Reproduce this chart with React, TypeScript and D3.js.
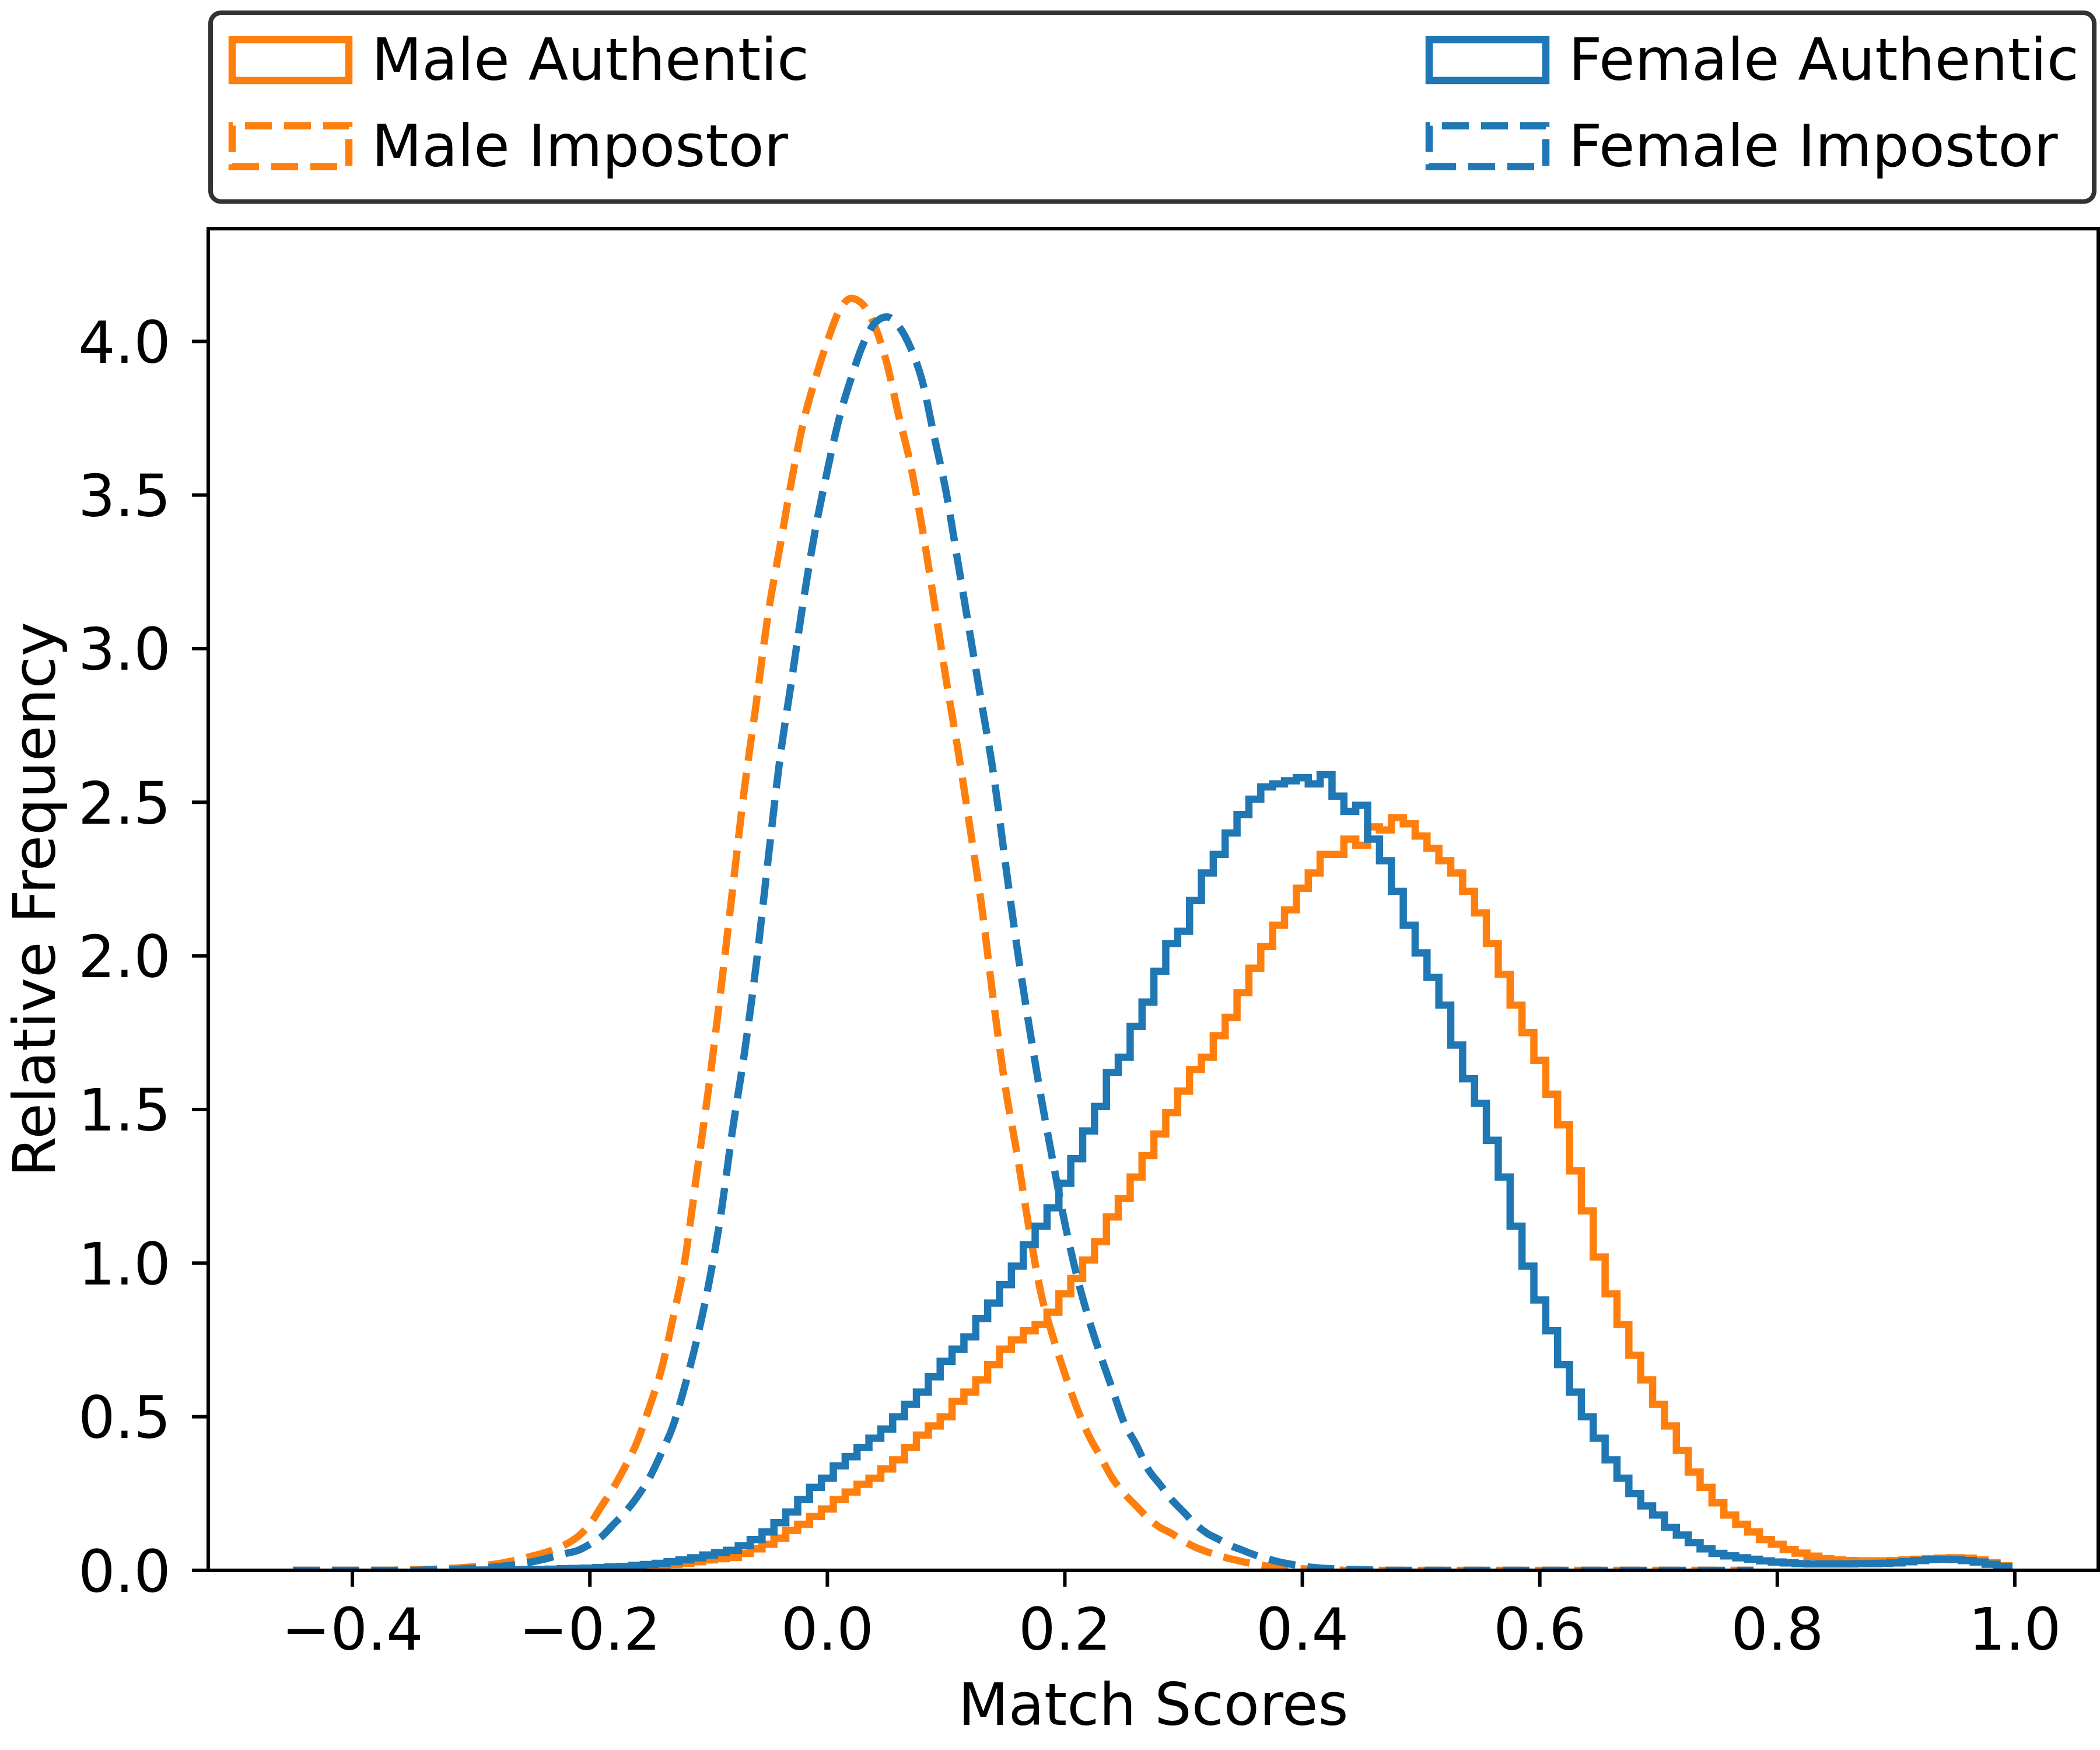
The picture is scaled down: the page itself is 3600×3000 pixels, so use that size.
import React from "react";
import * as d3 from "d3";

// histogram bins (bin centres start here, 0.01 wide)
const impostorStart = -0.45;
const authenticStart = -0.3;
const binWidth = 0.01;

const maleImpostor = [
  0, 0, 0, 0, 0, 0, 0, 0, 0,
  0.001, 0.002, 0.003, 0.004, 0.006, 0.008, 0.011, 0.015, 0.02, 0.027,
  0.035, 0.045, 0.055, 0.068, 0.085, 0.11, 0.15, 0.21, 0.27, 0.34,
  0.42, 0.53, 0.65, 0.82, 1.01, 1.29, 1.57, 1.88, 2.21, 2.54,
  2.82, 3.11, 3.33, 3.55, 3.74, 3.88, 4.0, 4.1, 4.14, 4.12,
  4.05, 3.93, 3.76, 3.6, 3.39, 3.15, 2.9, 2.67, 2.42, 2.16,
  1.85, 1.57, 1.35, 1.11, 0.9, 0.76, 0.64, 0.53, 0.44, 0.37,
  0.3, 0.25, 0.21, 0.17, 0.14, 0.12, 0.095, 0.075, 0.06, 0.048,
  0.037, 0.028, 0.02, 0.014, 0.01, 0.007, 0.005, 0.003, 0.002, 0.001,
  0, 0, 0, 0, 0, 0, 0, 0, 0, 0,
  0, 0, 0, 0, 0, 0, 0, 0, 0, 0,
  0, 0, 0, 0, 0, 0, 0, 0, 0, 0,
  0, 0, 0, 0, 0,
];

const femaleImpostor = [
  0, 0, 0, 0, 0, 0, 0, 0, 0, 0, 0,
  0.001, 0.002, 0.003, 0.004, 0.006, 0.008, 0.011, 0.015, 0.02, 0.027,
  0.035, 0.045, 0.055, 0.065, 0.085, 0.11, 0.15, 0.19, 0.24, 0.3,
  0.38, 0.47, 0.6, 0.75, 0.93, 1.15, 1.43, 1.68, 1.97, 2.31,
  2.64, 2.9, 3.16, 3.39, 3.58, 3.75, 3.88, 3.99, 4.06, 4.08,
  4.05, 3.98, 3.87, 3.69, 3.51, 3.28, 3.05, 2.82, 2.59, 2.3,
  2.02, 1.77, 1.54, 1.33, 1.13, 0.96, 0.82, 0.7, 0.59, 0.48,
  0.41, 0.33, 0.28, 0.23, 0.19, 0.15, 0.12, 0.1, 0.08, 0.065,
  0.05, 0.038, 0.028, 0.02, 0.014, 0.009, 0.006, 0.004, 0.003, 0.002,
  0.001, 0, 0, 0, 0, 0, 0, 0, 0, 0,
  0, 0, 0, 0, 0, 0, 0, 0, 0, 0,
  0, 0, 0, 0, 0, 0, 0, 0, 0, 0,
  0, 0, 0,
];

const maleAuthentic = [
  0, 0, 0.001, 0.001, 0.001, 0.002, 0.002, 0.003, 0.003, 0.004,
  0.005, 0.006, 0.007, 0.009, 0.011, 0.013, 0.016, 0.019, 0.023, 0.028,
  0.034, 0.038, 0.042, 0.055, 0.07, 0.085, 0.105, 0.13, 0.15, 0.175,
  0.2, 0.23, 0.255, 0.28, 0.3, 0.33, 0.36, 0.4, 0.44, 0.47,
  0.5, 0.55, 0.58, 0.62, 0.67, 0.72, 0.75, 0.78, 0.8, 0.84,
  0.9, 0.95, 1.01, 1.07, 1.15, 1.21, 1.28, 1.35, 1.42, 1.49,
  1.56, 1.63, 1.67, 1.74, 1.8, 1.88, 1.96, 2.03, 2.1, 2.15,
  2.22, 2.27, 2.33, 2.33, 2.38, 2.36, 2.42, 2.41, 2.45, 2.43,
  2.39, 2.35, 2.31, 2.27, 2.21, 2.14, 2.04, 1.94, 1.84, 1.75,
  1.66, 1.55, 1.45, 1.3, 1.17, 1.02, 0.9, 0.8, 0.7, 0.62,
  0.54, 0.47, 0.39, 0.32, 0.27, 0.22, 0.18, 0.15, 0.125, 0.1,
  0.085, 0.068, 0.056, 0.046, 0.038, 0.034, 0.032, 0.031, 0.031, 0.031,
  0.032, 0.034, 0.036, 0.038, 0.04, 0.041, 0.04, 0.034, 0.025, 0.015,
];

const femaleAuthentic = [
  0, 0.001, 0.001, 0.002, 0.002, 0.003, 0.003, 0.004, 0.005, 0.006,
  0.007, 0.009, 0.011, 0.013, 0.016, 0.019, 0.023, 0.028, 0.034, 0.041,
  0.05, 0.058, 0.065, 0.08, 0.1, 0.125, 0.155, 0.19, 0.23, 0.27,
  0.3, 0.34, 0.37, 0.4, 0.43, 0.46, 0.5, 0.54, 0.58, 0.63,
  0.68, 0.72, 0.76, 0.82, 0.87, 0.93, 0.99, 1.06, 1.12, 1.18,
  1.26, 1.34, 1.43, 1.51, 1.62, 1.67, 1.77, 1.85, 1.95, 2.04,
  2.08, 2.18, 2.27, 2.33, 2.4, 2.46, 2.51, 2.55, 2.56, 2.57,
  2.58, 2.56, 2.59, 2.52, 2.47, 2.49, 2.38, 2.31, 2.21, 2.1,
  2.01, 1.93, 1.84, 1.71, 1.6, 1.52, 1.4, 1.28, 1.12, 0.99,
  0.88, 0.78, 0.67, 0.58, 0.5, 0.43, 0.36, 0.3, 0.25, 0.21,
  0.18, 0.14, 0.115, 0.09, 0.07, 0.055, 0.047, 0.041, 0.036, 0.031,
  0.027, 0.024, 0.022, 0.021, 0.021, 0.021, 0.021, 0.022, 0.022, 0.023,
  0.024, 0.028, 0.032, 0.035, 0.036, 0.035, 0.032, 0.027, 0.02, 0.013,
];

const xTicks = [-0.4, -0.2, 0, 0.2, 0.4, 0.6, 0.8, 1.0];
const yTicks = [0, 0.5, 1.0, 1.5, 2.0, 2.5, 3.0, 3.5, 4.0];

const ORANGE = "#ff7f0e";
const BLUE = "#1f77b4";
const FONT = "DejaVu Sans";
const LW = 12.5;
const DASH = "46 21";

const W = 3600;
const H = 3000;
const left = 357;
const right = 3597;
const top = 392;
const bottom = 2692;

const x = d3.scaleLinear().domain([-0.5214, 1.0703]).range([left, right]);
const y = d3.scaleLinear().domain([0, 4.367]).range([bottom, top]);

type Pt = [number, number];

// matplotlib histtype="step" outline
function stepPath(values: number[], start: number) {
  const pts: Pt[] = values.map((v, i) => [start + (i - 0.5) * binWidth, v]);
  const end = start + (values.length - 0.5) * binWidth;
  pts.unshift([start - 0.5 * binWidth, 0]);
  pts.push([end, values[values.length - 1]], [end, 0]);
  return d3
    .line<Pt>()
    .curve(d3.curveStepAfter)
    .x((d) => x(d[0]))
    .y((d) => y(d[1]))(pts)!;
}

function smoothPath(values: number[], start: number) {
  const pts: Pt[] = values.map((v, i) => [start + i * binWidth, v]);
  return d3
    .line<Pt>()
    .curve(d3.curveMonotoneX)
    .x((d) => x(d[0]))
    .y((d) => y(d[1]))(pts)!;
}

const fmt = d3.format(".1f");

// legend handle drawn from bottom-left like matplotlib's Rectangle
const handle = (x0: number, y0: number, x1: number, y1: number) =>
  `M${x0},${y1}L${x1},${y1}L${x1},${y0}L${x0},${y0}Z`;

const legendItems = [
  { label: "Male Authentic", color: ORANGE, dashed: false, hx: 398, tx: 637, row: 0 },
  { label: "Male Impostor", color: ORANGE, dashed: true, hx: 398, tx: 637, row: 1 },
  { label: "Female Authentic", color: BLUE, dashed: false, hx: 2450, tx: 2689, row: 0 },
  { label: "Female Impostor", color: BLUE, dashed: true, hx: 2450, tx: 2689, row: 1 },
];

const App: React.FC = () => {
  return (
    <svg
      width={W}
      height={H}
      style={{ position: "absolute", left: 0, top: 0, background: "#fff" }}
      fontFamily={FONT}
    >
      <defs>
        <clipPath id="plotClip">
          <rect x={left} y={top} width={right - left} height={bottom - top} />
        </clipPath>
      </defs>

      <g clipPath="url(#plotClip)" fill="none" strokeWidth={LW}>
        <path d={stepPath(maleAuthentic, authenticStart)} stroke={ORANGE} strokeLinejoin="miter" />
        <path
          d={smoothPath(maleImpostor, impostorStart)}
          stroke={ORANGE}
          strokeDasharray={DASH}
        />
        <path d={stepPath(femaleAuthentic, authenticStart)} stroke={BLUE} strokeLinejoin="miter" />
        <path
          d={smoothPath(femaleImpostor, impostorStart)}
          stroke={BLUE}
          strokeDasharray={DASH}
        />
      </g>

      {/* axes frame */}
      <rect
        x={left}
        y={top}
        width={right - left}
        height={bottom - top}
        fill="none"
        stroke="#000"
        strokeWidth={6}
      />

      {/* x axis */}
      <g>
        {xTicks.map((t) => (
          <g key={t}>
            <line x1={x(t)} x2={x(t)} y1={bottom} y2={bottom + 28} stroke="#000" strokeWidth={6} />
            <text x={x(t)} y={2828} fontSize={100} textAnchor="middle">
              {fmt(t)}
            </text>
          </g>
        ))}
        <text x={(left + right) / 2} y={2957} fontSize={100} textAnchor="middle">
          Match Scores
        </text>
      </g>

      {/* y axis */}
      <g>
        {yTicks.map((t) => (
          <g key={t}>
            <line x1={left - 28} x2={left} y1={y(t)} y2={y(t)} stroke="#000" strokeWidth={6} />
            <text x={293} y={y(t) + 36.5} fontSize={100} textAnchor="end">
              {fmt(t)}
            </text>
          </g>
        ))}
        <text
          transform={`translate(94,${(top + bottom) / 2}) rotate(-90)`}
          fontSize={100}
          textAnchor="middle"
        >
          Relative Frequency
        </text>
      </g>

      {/* legend */}
      <g>
        <rect x={361} y={22} width={3229} height={323.5} rx={18} fill="#fff" stroke="#333" strokeWidth={8} />
        {legendItems.map((d) => {
          const y0 = d.row === 0 ? 68 : 215.5;
          const y1 = y0 + 70;
          return (
            <g key={d.label}>
              <path
                d={handle(d.hx, y0, d.hx + 200, y1)}
                fill="none"
                stroke={d.color}
                strokeWidth={LW}
                strokeDasharray={d.dashed ? DASH : undefined}
              />
              <text x={d.tx} y={d.row === 0 ? 137 : 285} fontSize={100}>
                {d.label}
              </text>
            </g>
          );
        })}
      </g>
    </svg>
  );
};

export default App;
